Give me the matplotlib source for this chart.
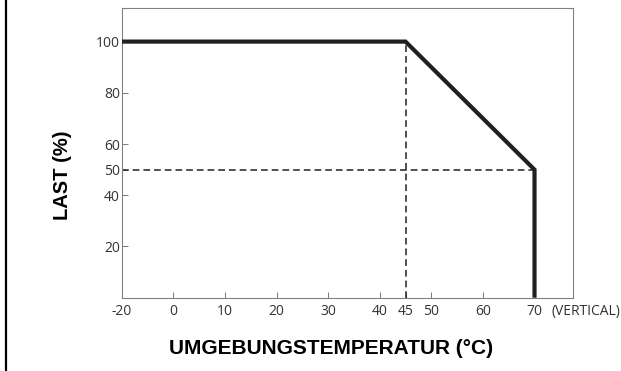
import numpy as np
import matplotlib
matplotlib.use("Agg")
import matplotlib.pyplot as plt
from matplotlib.lines import Line2D

# Data
curve_x = [-20, 45, 70, 70]
curve_y = [100, 100, 50, 0]
ref_h_x = [-20, 70]
ref_h_y = [50, 50]
ref_v_x = [45, 45]
ref_v_y = [0, 100]
xticks = [-20, 0, 10, 20, 30, 40, 45, 50, 60, 70]
yticks = [20, 40, 50, 60, 80, 100]
xlabel = "UMGEBUNGSTEMPERATUR (°C)"
ylabel = "LAST (%)"
note = "(VERTICAL)"

ink = "#231f20"
gray = "#808080"
tick_txt = "#333333"

fig = plt.figure(figsize=(6.21, 3.71), dpi=100)
ax = fig.add_axes([121.7/621, 1-297.7/371, (572.7-121.7)/621, (297.7-8.3)/371])

def fwd(x):
    x = np.asarray(x, dtype=float)
    return np.where(x < 0, x / 2.0, x)

def inv(x):
    x = np.asarray(x, dtype=float)
    return np.where(x < 0, x * 2.0, x)

ax.set_xscale('function', functions=(fwd, inv))
ax.set_xlim(-20, 77.4)
ax.set_ylim(0, 113)

ax.plot(ref_h_x, ref_h_y, color=ink, lw=1.1, dashes=(4.4, 2.6), solid_capstyle='butt')
ax.plot(ref_v_x, ref_v_y, color=ink, lw=1.1, dashes=(4.4, 2.6))
ax.plot(curve_x, curve_y, color=ink, lw=3.0, solid_joinstyle='miter', solid_capstyle='butt', zorder=3)

ax.set_xticks(xticks)
ax.set_xticklabels([str(v) for v in xticks])
ax.set_yticks(yticks)
ax.set_yticklabels([str(v) for v in yticks])
ax.xaxis.set_minor_locator(matplotlib.ticker.NullLocator())
ax.yaxis.set_minor_locator(matplotlib.ticker.NullLocator())

for lab in ax.get_xticklabels() + ax.get_yticklabels():
    lab.set_fontfamily(['Open Sans', 'DejaVu Sans'])
    lab.set_fontsize(10)
    lab.set_color(tick_txt)

ax.tick_params(axis='both', direction='in', length=4.3, width=0.75, color=gray)
ax.tick_params(axis='x', pad=4.5)
ax.tick_params(axis='y', pad=1.2)
for s in ax.spines.values():
    s.set_color(gray)
    s.set_linewidth(0.8)

ax.annotate(note, xy=(70, 0), xycoords='data', xytext=(12.5, -4.5), textcoords='offset points',
            ha='left', va='top', fontsize=10, color=tick_txt, family=['Open Sans', 'DejaVu Sans'])

fig.text(331/621, 1-348/371, xlabel, ha='center', va='center', fontsize=15, fontweight='bold',
         family=['Liberation Sans', 'DejaVu Sans'], color='black')
fig.text(62/621, 1-175/371, ylabel, ha='center', va='center', rotation=90, fontsize=14.5,
         fontweight='bold', family=['Liberation Sans', 'DejaVu Sans'], color='black')

fig.add_artist(Line2D([6.3/621, 6.3/621], [0, 1], transform=fig.transFigure, color='black', lw=1.6))

fig.savefig("out.png", dpi=100)
